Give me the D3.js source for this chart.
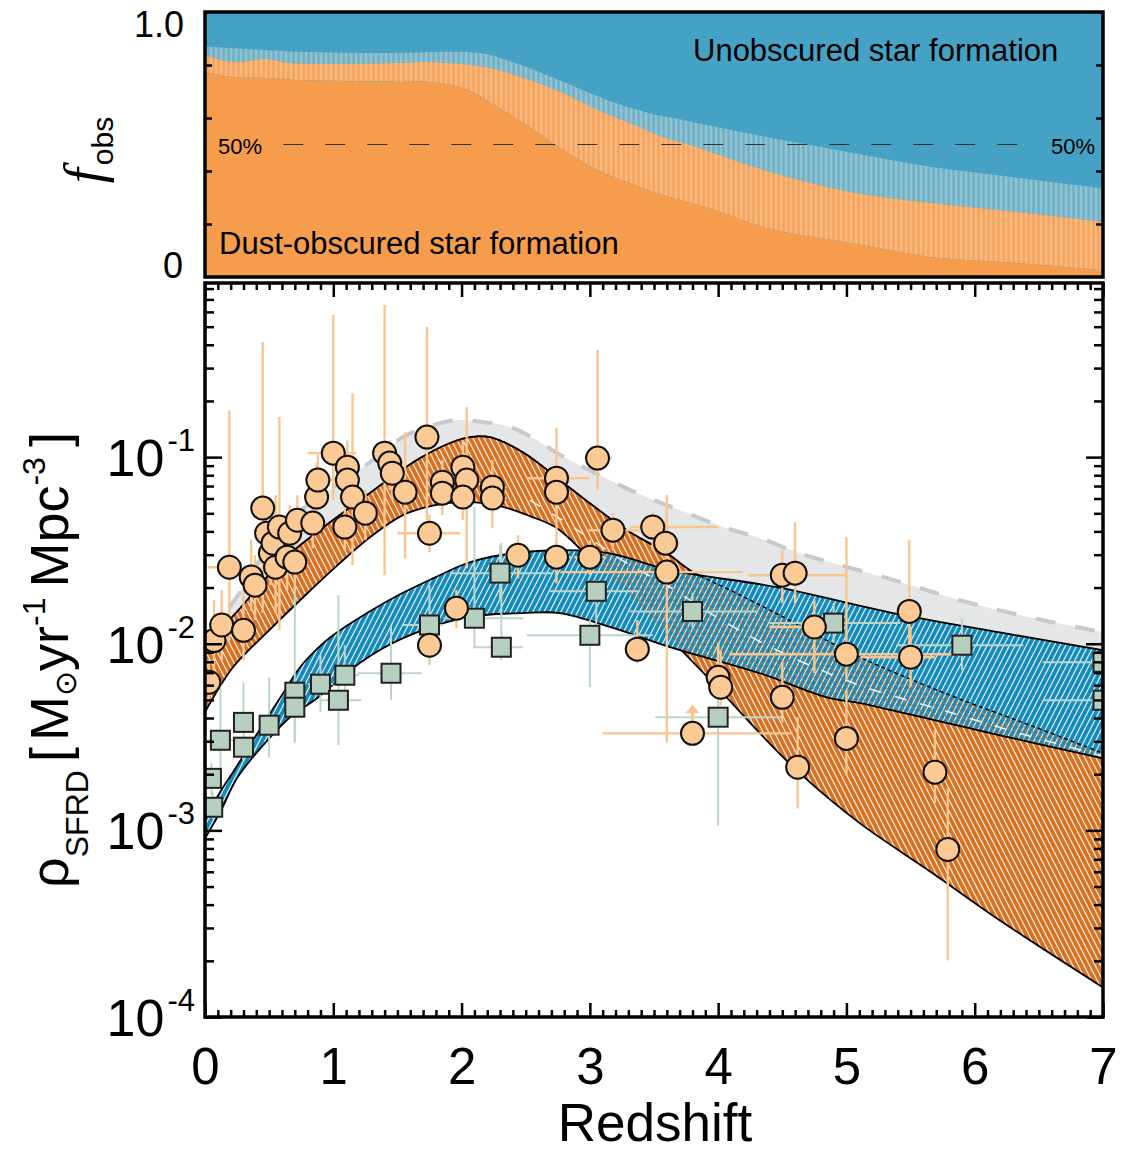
<!DOCTYPE html>
<html>
<head>
<meta charset="utf-8">
<script src="https://cdn.jsdelivr.net/npm/d3@7"></script>
<style>
  html, body { margin: 0; padding: 0; background: #fff; }
  svg { display: block; font-family: "Liberation Sans", Arial, Helvetica, sans-serif; }
</style>
</head>
<body>
<svg id="chart" width="1122" height="1151"></svg>
<script>
'use strict';

// ---- top panel: obscured fraction (upper / best / lower) ----
var fracUpperZ = [0, 0.74, 1.36, 2.14, 2.4, 2.67, 2.92, 3.18, 3.45, 3.7, 4.0, 4.38, 5.03, 5.67, 6.33, 7];
var fracUpper  = [0.87, 0.85, 0.845, 0.845, 0.81, 0.76, 0.71, 0.66, 0.62, 0.595, 0.565, 0.528, 0.47, 0.415, 0.375, 0.335];
var fracMidZ = [0, 0.22, 0.48, 0.66, 1.52, 1.75, 2.22, 2.53, 2.79, 3.06, 3.31, 3.57, 3.83, 4.01, 4.38, 5.03, 5.67, 6.33, 7];
var fracMid  = [0.838, 0.811, 0.823, 0.808, 0.808, 0.811, 0.789, 0.743, 0.694, 0.63, 0.581, 0.528, 0.491, 0.46, 0.40, 0.321, 0.279, 0.245, 0.208];
var fracLowerZ = [0, 0.22, 0.48, 0.74, 1.52, 1.75, 2.01, 2.28, 2.53, 2.79, 3.06, 3.31, 3.57, 3.96, 4.38, 5.03, 5.67, 6.33, 7];
var fracLower  = [0.774, 0.755, 0.751, 0.743, 0.736, 0.736, 0.713, 0.642, 0.566, 0.479, 0.404, 0.355, 0.309, 0.255, 0.185, 0.128, 0.075, 0.053, 0.026];

// ---- main panel: SFRD bands ----
var totalUpperZ = [0, 0.117, 0.273, 0.507, 0.779, 1.052, 1.341, 1.543, 1.754, 1.964, 2.167, 2.377, 2.588, 2.744, 3.0, 3.367, 3.702, 4.038, 4.326, 4.638, 4.95, 5.285, 5.573, 5.885, 6.197, 6.532, 6.844, 7];
var totalUpper  = [0.01045, 0.01337, 0.0189, 0.0337, 0.054, 0.0726, 0.1, 0.128, 0.1466, 0.158, 0.154, 0.145, 0.1233, 0.105, 0.0851, 0.0641, 0.052, 0.0422, 0.0368, 0.0305, 0.0264, 0.0228, 0.0199, 0.0171, 0.0151, 0.01337, 0.0121, 0.0115];
var totalLowerZ = [0, 0.5, 1, 1.5, 2, 2.5, 3, 3.5, 4, 5, 6, 7];
var totalLower  = [0.006, 0.016, 0.033, 0.06, 0.08, 0.07, 0.043, 0.025, 0.015, 0.01, 0.008, 0.006];

var obscUpperZ = [0, 0.117, 0.273, 0.429, 0.585, 0.741, 0.974, 1.208, 1.442, 1.676, 1.91, 2.066, 2.222, 2.479, 2.767, 3.0, 3.289, 3.601, 3.804, 4.092, 4.482, 5.106, 5.807, 6.431, 7];
var obscUpper  = [0.00946, 0.0118, 0.0155, 0.0206, 0.0274, 0.0337, 0.0448, 0.0587, 0.0771, 0.0988, 0.119, 0.128, 0.128, 0.106, 0.0753, 0.0566, 0.0406, 0.0305, 0.0242, 0.0194, 0.0142, 0.00847, 0.0053, 0.00366, 0.00259];
var obscLowerZ = [0, 0.218, 0.483, 0.741, 0.974, 1.286, 1.543, 1.793, 2.042, 2.3, 2.533, 2.744, 3.0, 3.235, 3.43, 3.625, 4.014, 4.326, 4.638, 5.106, 5.675, 6.197, 7];
var obscLower  = [0.0043, 0.00748, 0.0115, 0.0171, 0.0242, 0.0372, 0.0489, 0.0553, 0.0574, 0.0546, 0.0483, 0.0416, 0.0287, 0.0206, 0.0151, 0.0107, 0.00564, 0.00331, 0.00202, 0.00109, 0.000588, 0.000329, 0.000144];
var obscMidZ = [2.533, 2.845, 3.289, 3.625, 3.936, 4.459, 5.106, 5.753, 6.353, 7];
var obscMid  = [0.0587, 0.0432, 0.027, 0.0201, 0.0146, 0.00923, 0.00598, 0.0044, 0.00331, 0.0025];

var unobscUpperZ = [0, 0.117, 0.218, 0.351, 0.483, 0.624, 0.741, 0.896, 0.998, 1.263, 1.52, 1.777, 2.042, 2.3, 2.767, 3.157, 3.625, 4.459, 5.363, 6.197, 7];
var unobscUpper  = [0.00116, 0.0016, 0.00205, 0.00286, 0.00399, 0.00564, 0.00748, 0.0097, 0.0111, 0.0146, 0.0184, 0.0224, 0.027, 0.0298, 0.0317, 0.0305, 0.0248, 0.0201, 0.0146, 0.0115, 0.00923];
var unobscLowerZ = [0, 0.117, 0.249, 0.405, 0.663, 0.873, 1.13, 1.387, 1.653, 2.042, 2.479, 2.767, 3.157, 3.625, 4.326, 4.848, 5.106, 5.417, 6.197, 7];
var unobscLower  = [0.000906, 0.00125, 0.0019, 0.00262, 0.00404, 0.0051, 0.00721, 0.00946, 0.0115, 0.0139, 0.0146, 0.0146, 0.0123, 0.00958, 0.00695, 0.00516, 0.0048, 0.0043, 0.00323, 0.00243];

// ---- measurements: dust-obscured (circles) ----
var circZ = [0.03, 0.07, 0.13, 0.19, 0.30, 0.36, 0.39, 0.45, 0.48, 0.51, 0.53, 0.55, 0.58, 0.64, 0.66, 0.70, 0.72, 0.84, 0.87, 0.88,
             1.00, 1.09, 1.11, 1.11, 1.15, 1.25, 1.40, 1.44, 1.46, 1.56, 1.73, 1.75, 1.75, 1.85, 1.85, 1.96, 2.01, 2.04, 2.01, 2.24,
             2.24, 2.44, 2.74, 2.74, 2.74, 3.00, 3.06, 3.18, 3.37, 3.49, 3.59, 3.60, 3.80, 4.00, 4.02, 4.50, 4.60, 4.50, 4.62, 4.75,
             5.00, 5.00, 5.49, 5.50, 5.69, 5.79];
var circV = [0.00622, 0.0104, 0.0126, 0.0257, 0.0118, 0.0228, 0.0206, 0.0533, 0.0391, 0.0305, 0.0346, 0.0257, 0.0422, 0.0291, 0.0391, 0.0274, 0.0459, 0.0443, 0.0611, 0.0753,
             0.105, 0.0422, 0.0883, 0.0753, 0.0611, 0.0501, 0.105, 0.0929, 0.082, 0.0649, 0.128, 0.0391, 0.00982, 0.0734, 0.0641, 0.0155, 0.0883, 0.0753, 0.0611, 0.069,
             0.0603, 0.0298, 0.0771, 0.0649, 0.0291, 0.0291, 0.0988, 0.0406, 0.00935, 0.0422, 0.0346, 0.0242, 0.00331, 0.00661, 0.00585, 0.0233, 0.0239, 0.00516, 0.00218, 0.0123,
             0.00879, 0.00311, 0.0149, 0.00847, 0.00205, 0.00079];
var circLo = [0.00498, 0.00564, 0.00816, 0.0104, 0.00816, 0.0151, 0.0134, 0.0146, 0.0281, 0.0206, 0.0233, 0.0146, 0.0118, 0.0194, 0.0281, 0.0194, 0.0337, 0.0325, 0.0501, 0.0553,
              0.0588, 0.0317, 0.0649, 0.0553, 0.0264, 0.0359, 0.0233, 0.0665, 0.0588, 0.0287, 0.0459, 0.031, 0.00796, 0.0553, 0.0489, 0.0121, 0.0625, 0.0254, 0.0459, 0.0507,
              0.0416, 0.0224, 0.0211, 0.0489, 0.0233, 0.0233, 0.0665, 0.0317, 0.00785, 0.0317, 0.0264, 0.00296, 0.00331, 0.00498, 0.00468, 0.0165, 0.0165, 0.00379, 0.00131, 0.00695,
              0.00637, 0.00197, 0.00847, 0.00585, 0.0014, 0.000201];
var circHi = [0.00816, 0.0171, 0.0194, 0.179, 0.0194, 0.0359, 0.0298, 0.414, 0.0553, 0.0432, 0.0489, 0.0625, 0.164, 0.0406, 0.0553, 0.0382, 0.0625, 0.0588, 0.0929, 0.103,
              0.577, 0.0553, 0.123, 0.103, 0.22, 0.0665, 0.653, 0.123, 0.109, 0.136, 0.498, 0.0489, 0.0118, 0.0964, 0.0851, 0.0194, 0.123, 0.185, 0.08, 0.0964,
              0.08, 0.0382, 0.143, 0.0851, 0.0359, 0.0359, 0.375, 0.0501, 0.0134, 0.0507, 0.0459, 0.0625, 0.00331, 0.0101, 0.00923, 0.0317, 0.0448, 0.00796, 0.00404, 0.0171,
              0.0372, 0.00564, 0.0359, 0.0123, 0.00344, 0.00168];
var circZLo = [0, 0, 0.04, 0.02, 0.21, 0.27, 0.31, 0.37, 0.40, 0.41, 0.44, 0.44, 0.49, 0.55, 0.57, 0.61, 0.62, 0.74, 0.78, 0.78,
               0.80, 1.0, 1.01, 1.01, 1.05, 1.15, 1.30, 1.35, 1.36, 1.46, 1.64, 1.50, 1.66, 1.75, 1.75, 1.87, 1.91, 1.95, 1.91, 2.15,
               2.15, 2.34, 2.51, 2.65, 2.65, 2.88, 2.96, 2.99, 3.27, 3.31, 3.51, 2.77, 3.10, 3.90, 3.92, 4.23, 4.50, 4.40, 4.52, 4.40,
               4.09, 4.90, 5.39, 5.11, 5.59, 5.69];
var circZHi = [0.08, 0.16, 0.23, 0.27, 0.39, 0.45, 0.47, 0.55, 0.57, 0.60, 0.62, 0.65, 0.68, 0.74, 0.76, 0.80, 0.82, 0.94, 0.97, 0.99,
               1.18, 1.18, 1.21, 1.21, 1.25, 1.35, 1.50, 1.54, 1.56, 1.66, 1.83, 1.99, 1.85, 1.94, 1.94, 2.07, 2.11, 2.14, 2.11, 2.35,
               2.35, 2.53, 3.0, 2.85, 2.85, 3.12, 3.17, 3.39, 3.47, 4.0, 3.70, 4.19, 4.58, 4.09, 4.12, 5.0, 4.70, 4.60, 4.72, 4.87,
               5.88, 5.10, 5.59, 5.69, 5.79, 5.89];
var circLowerLimits = [52];

// ---- measurements: unobscured (squares) ----
var sqZ   = [0.05, 0.06, 0.12, 0.30, 0.30, 0.50, 0.70, 0.70, 0.90, 1.09, 1.04, 1.45, 1.75, 2.10, 2.30, 2.31, 3.05, 3.00, 3.80, 4.90, 5.90, 4.00, 7.0, 7.0];
var sqV   = [0.0019, 0.00133, 0.00304, 0.00379, 0.00279, 0.00366, 0.0055, 0.00457, 0.00607, 0.00678, 0.00498, 0.00695, 0.0126, 0.0137, 0.0239, 0.00958, 0.0191, 0.0111, 0.0149, 0.0129, 0.00982, 0.00404, 0.00796, 0.00498];
var sqLo  = [0.00155, 0.00115, 0.00202, 0.00237, 0.00237, 0.00246, 0.00296, 0.00296, 0.0043, 0.0055, 0.00286, 0.00498, 0.00767, 0.00958, 0.0171, 0.00816, 0.0126, 0.00585, 0.0123, 0.0101, 0.00721, 0.00106, 0.0070, 0.0044];
var sqHi  = [0.0023, 0.0016, 0.00614, 0.00622, 0.00323, 0.00661, 0.0201, 0.00637, 0.00867, 0.00982, 0.0182, 0.0126, 0.0206, 0.054, 0.0337, 0.0346, 0.0219, 0.0134, 0.0187, 0.0165, 0.0137, 0.0101, 0.009, 0.0056];
var sqZLo = [0, 0, 0, 0.22, 0.22, 0.42, 0.62, 0.62, 0.80, 1.0, 0.90, 1.19, 1.54, 1.86, 1.91, 2.09, 2.69, 2.51, 3.31, 4.40, 5.39, 3.51, 6.53, 6.53];
var sqZHi = [0.12, 0.12, 0.22, 0.38, 0.38, 0.58, 0.78, 0.78, 1.0, 1.2, 1.22, 1.69, 1.85, 2.48, 2.71, 2.48, 3.39, 3.49, 4.30, 5.42, 6.38, 4.50, 7.0, 7.0];

// ---- ticks ----
var zMajor = [0, 1, 2, 3, 4, 5, 6, 7];
var rhoMajor = [1e-4, 1e-3, 1e-2, 1e-1];
var rhoExp = ['-4', '-3', '-2', '-1'];
var fracTicks = [0.2, 0.4, 0.6, 0.8];

var svg = d3.select('#chart');
var defs = svg.append('defs');

var x = d3.scaleLinear().domain([0, 7]).range([205, 1103]);
var yFrac = d3.scaleLinear().domain([0, 1]).range([277, 12]);
var yRho = d3.scaleLog().domain([1e-4, 0.857]).range([1017, 283]);

function pairs(zs, vs) {
    return zs.map(function(z, i) { return [z, vs[i]]; });
}

function lineGen(y) {
    return d3.line()
        .x(function(d) { return x(d[0]); })
        .y(function(d) { return y(d[1]); })
        .curve(d3.curveCatmullRom.alpha(0.5));
}

function bandPath(y, zU, vU, zL, vL) {
    var line = lineGen(y);
    var lower = line(pairs(zL, vL).reverse());
    return line(pairs(zU, vU)) + 'L' + lower.slice(1) + 'Z';
}

function stripes(id, base, light) {
    var p = defs.append('pattern').attr('id', id)
        .attr('patternUnits', 'userSpaceOnUse').attr('width', 5).attr('height', 10);
    p.append('rect').attr('width', 5).attr('height', 10).attr('fill', base);
    p.append('rect').attr('x', 0).attr('width', 2.2).attr('height', 10).attr('fill', light);
}

function hatch(id, base, color, width, angle, dash) {
    var p = defs.append('pattern').attr('id', id)
        .attr('patternUnits', 'userSpaceOnUse').attr('width', 5).attr('height', 10)
        .attr('patternTransform', 'rotate(' + angle + ')');
    if (base) p.append('rect').attr('width', 5).attr('height', 10).attr('fill', base);
    p.append('line').attr('x1', 2.5).attr('x2', 2.5).attr('y1', 0).attr('y2', 10)
        .attr('stroke', color).attr('stroke-width', width)
        .attr('stroke-dasharray', dash || null);
}

stripes('stripeBlue', '#72b2c8', '#92c3d0');
stripes('stripeOrange', '#f5a660', '#f8b87f');
hatch('hatchOrange', '#d8701f', '#ffffff', 1.1, -27);
hatch('hatchBlue', '#128abb', '#ffffff', 1.1, 27);
hatch('hatchOrangeOver', null, '#d8701f', 1.6, -27, '3,2');

defs.append('clipPath').attr('id', 'clipTop')
    .append('rect').attr('x', 205).attr('y', 12).attr('width', 898).attr('height', 265);
defs.append('clipPath').attr('id', 'clipMain')
    .append('rect').attr('x', 205).attr('y', 283).attr('width', 898).attr('height', 734);
defs.append('clipPath').attr('id', 'clipBlue')
    .append('path').attr('d', bandPath(yRho, unobscUpperZ, unobscUpper, unobscLowerZ, unobscLower));

// ================= top panel =================
var topPanel = svg.append('g').attr('clip-path', 'url(#clipTop)');
topPanel.append('rect').attr('x', 205).attr('y', 12).attr('width', 898).attr('height', 265).attr('fill', '#46a2c5');
topPanel.append('path').attr('d', bandPath(yFrac, fracUpperZ, fracUpper, fracMidZ, fracMid)).attr('fill', 'url(#stripeBlue)');
topPanel.append('path').attr('d', bandPath(yFrac, fracMidZ, fracMid, fracLowerZ, fracLower)).attr('fill', 'url(#stripeOrange)');
topPanel.append('path').attr('d', bandPath(yFrac, fracLowerZ, fracLower, [0, 7], [0, 0])).attr('fill', '#f59d4d');

topPanel.append('line')
    .attr('x1', x(0.61)).attr('x2', x(6.4))
    .attr('y1', yFrac(0.5)).attr('y2', yFrac(0.5))
    .attr('stroke', '#333').attr('stroke-width', 1.2).attr('stroke-dasharray', '20,22');

svg.append('text').attr('x', 218).attr('y', 154).attr('font-size', 22).text('50%');
svg.append('text').attr('x', 1095).attr('y', 154).attr('font-size', 22).attr('text-anchor', 'end').text('50%');
svg.append('text').attr('x', 693).attr('y', 61).attr('font-size', 31).text('Unobscured star formation');
svg.append('text').attr('x', 219).attr('y', 254).attr('font-size', 31).text('Dust-obscured star formation');

function styleAxis(g) {
    g.select('.domain').remove();
    g.selectAll('.tick line').attr('stroke', '#000').attr('stroke-width', 2.5);
}

svg.append('g').attr('transform', 'translate(205,0)')
    .call(d3.axisLeft(yFrac).tickValues(fracTicks).tickSize(-7).tickFormat(''))
    .call(styleAxis);
svg.append('g').attr('transform', 'translate(1103,0)')
    .call(d3.axisRight(yFrac).tickValues(fracTicks).tickSize(-7).tickFormat(''))
    .call(styleAxis);

svg.append('text').attr('x', 184).attr('y', yFrac(1) + 25).attr('font-size', 36).attr('text-anchor', 'end').text('1.0');
svg.append('text').attr('x', 183).attr('y', yFrac(0) + 1).attr('font-size', 36).attr('text-anchor', 'end').text('0');

var fl = svg.append('text').attr('transform', 'translate(102,150) rotate(-90)').attr('text-anchor', 'middle');
fl.append('tspan').attr('font-family', '"Liberation Serif", "Times New Roman", serif')
    .attr('font-style', 'italic').attr('font-size', 54).text('f');
fl.append('tspan').attr('font-size', 30).attr('dy', 11).attr('dx', 3).text('obs');

svg.append('rect').attr('x', 205).attr('y', 12).attr('width', 898).attr('height', 265)
    .attr('fill', 'none').attr('stroke', '#000').attr('stroke-width', 3.5);

// ================= main panel =================
var mainPanel = svg.append('g').attr('clip-path', 'url(#clipMain)');

mainPanel.append('path').attr('d', bandPath(yRho, totalUpperZ, totalUpper, totalLowerZ, totalLower)).attr('fill', '#e5e6e8');

mainPanel.append('path').attr('d', bandPath(yRho, obscUpperZ, obscUpper, obscLowerZ, obscLower)).attr('fill', 'url(#hatchOrange)');
[[obscUpperZ, obscUpper], [obscLowerZ, obscLower]].forEach(function(e) {
    mainPanel.append('path').attr('d', lineGen(yRho)(pairs(e[0], e[1])))
        .attr('fill', 'none').attr('stroke', '#000').attr('stroke-width', 1.8);
});

mainPanel.append('path').attr('d', bandPath(yRho, unobscUpperZ, unobscUpper, unobscLowerZ, unobscLower)).attr('fill', 'url(#hatchBlue)');
mainPanel.append('g').attr('clip-path', 'url(#clipBlue)')
    .append('path').attr('d', bandPath(yRho, obscUpperZ, obscUpper, obscLowerZ, obscLower))
    .attr('fill', 'url(#hatchOrangeOver)');
[[unobscUpperZ, unobscUpper], [unobscLowerZ, unobscLower]].forEach(function(e) {
    mainPanel.append('path').attr('d', lineGen(yRho)(pairs(e[0], e[1])))
        .attr('fill', 'none').attr('stroke', '#000').attr('stroke-width', 1.8);
});
mainPanel.append('path').attr('d', lineGen(yRho)(pairs(obscUpperZ, obscUpper)))
    .attr('fill', 'none').attr('stroke', '#000').attr('stroke-width', 1.4).attr('stroke-dasharray', '4,3');
mainPanel.append('path').attr('d', lineGen(yRho)(pairs(obscMidZ, obscMid)))
    .attr('fill', 'none').attr('stroke', '#fff').attr('stroke-width', 1.6).attr('stroke-dasharray', '12,14').attr('opacity', 0.85);

mainPanel.append('path').attr('d', lineGen(yRho)(pairs(totalUpperZ, totalUpper)))
    .attr('fill', 'none').attr('stroke', '#c8c9cb').attr('stroke-width', 4).attr('stroke-dasharray', '20,20');

// error bars
var sqIdx = d3.range(sqZ.length);
var circIdx = d3.range(circZ.length);

var eb = mainPanel.append('g');
sqIdx.forEach(function(i) {
    eb.append('line').attr('x1', x(sqZ[i])).attr('x2', x(sqZ[i])).attr('y1', yRho(sqLo[i])).attr('y2', yRho(sqHi[i]))
        .attr('stroke', '#bdd5c6').attr('stroke-width', 2);
    eb.append('line').attr('x1', x(sqZLo[i])).attr('x2', x(sqZHi[i])).attr('y1', yRho(sqV[i])).attr('y2', yRho(sqV[i]))
        .attr('stroke', '#bdd5c6').attr('stroke-width', 2);
});
circIdx.forEach(function(i) {
    eb.append('line').attr('x1', x(circZ[i])).attr('x2', x(circZ[i])).attr('y1', yRho(circLo[i])).attr('y2', yRho(circHi[i]))
        .attr('stroke', '#f8c690').attr('stroke-width', 2.4);
    eb.append('line').attr('x1', x(circZLo[i])).attr('x2', x(circZHi[i])).attr('y1', yRho(circV[i])).attr('y2', yRho(circV[i]))
        .attr('stroke', '#f8c690').attr('stroke-width', 2.4);
});
circLowerLimits.forEach(function(i) {
    var cx = x(circZ[i]), cy = yRho(circV[i]);
    eb.append('line').attr('x1', cx).attr('x2', cx).attr('y1', cy - 11).attr('y2', cy - 24)
        .attr('stroke', '#f8c690').attr('stroke-width', 3);
    eb.append('path').attr('d', 'M' + (cx - 7) + ',' + (cy - 20) + 'L' + cx + ',' + (cy - 29) + 'L' + (cx + 7) + ',' + (cy - 20) + 'Z')
        .attr('fill', '#f8c690');
});

mainPanel.append('g').selectAll('rect')
    .data(sqIdx)
    .enter()
    .append('rect')
    .attr('x', function(i) { return x(sqZ[i]) - 9.5; })
    .attr('y', function(i) { return yRho(sqV[i]) - 9.5; })
    .attr('width', 19).attr('height', 19)
    .attr('fill', '#b7cfbf').attr('stroke', '#222').attr('stroke-width', 2);

mainPanel.append('g').selectAll('circle')
    .data(circIdx)
    .enter()
    .append('circle')
    .attr('cx', function(i) { return x(circZ[i]); })
    .attr('cy', function(i) { return yRho(circV[i]); })
    .attr('r', 11.5)
    .attr('fill', '#fac994').attr('stroke', '#111').attr('stroke-width', 2);

// axes
var zMinor = d3.range(1, 70).filter(function(k) { return k % 10 !== 0; }).map(function(k) { return k / 10; });
var rhoMinor = [];
[-4, -3, -2, -1].forEach(function(e) {
    d3.range(2, 10).forEach(function(k) {
        var v = k * Math.pow(10, e);
        if (v < 0.857) rhoMinor.push(v);
    });
});

svg.append('g').attr('transform', 'translate(0,1017)')
    .call(d3.axisBottom(x).tickValues(zMajor).tickSize(-14).tickPadding(31).tickFormat(d3.format('d')))
    .call(styleAxis)
    .call(function(g) { g.selectAll('text').attr('font-size', 51).attr('fill', '#000').attr('font-family', '"Liberation Sans", Arial, sans-serif'); });
svg.append('g').attr('transform', 'translate(0,1017)')
    .call(d3.axisBottom(x).tickValues(zMinor).tickSize(-7).tickFormat(''))
    .call(styleAxis);
svg.append('g').attr('transform', 'translate(0,283)')
    .call(d3.axisTop(x).tickValues(zMajor).tickSize(-14).tickFormat(''))
    .call(styleAxis);
svg.append('g').attr('transform', 'translate(0,283)')
    .call(d3.axisTop(x).tickValues(zMinor).tickSize(-7).tickFormat(''))
    .call(styleAxis);

svg.append('g').attr('transform', 'translate(205,0)')
    .call(d3.axisLeft(yRho).tickValues(rhoMajor).tickSize(-17).tickFormat(''))
    .call(styleAxis);
svg.append('g').attr('transform', 'translate(205,0)')
    .call(d3.axisLeft(yRho).tickValues(rhoMinor).tickSize(-9).tickFormat(''))
    .call(styleAxis);
svg.append('g').attr('transform', 'translate(1103,0)')
    .call(d3.axisRight(yRho).tickValues(rhoMajor).tickSize(-17).tickFormat(''))
    .call(styleAxis);
svg.append('g').attr('transform', 'translate(1103,0)')
    .call(d3.axisRight(yRho).tickValues(rhoMinor).tickSize(-9).tickFormat(''))
    .call(styleAxis);

rhoMajor.forEach(function(v, i) {
    var t = svg.append('text').attr('x', 195).attr('y', yRho(v) + 19)
        .attr('text-anchor', 'end').attr('font-size', 52);
    t.append('tspan').text('10');
    t.append('tspan').attr('font-size', 31).attr('dy', -25).attr('dx', 3).text(rhoExp[i]);
});

svg.append('text').attr('x', 655).attr('y', 1141).attr('font-size', 53)
    .attr('text-anchor', 'middle').text('Redshift');

var yt = svg.append('text').attr('transform', 'translate(68,660) rotate(-90)')
    .attr('text-anchor', 'middle').attr('font-size', 54);
yt.append('tspan').text('\u03C1');
yt.append('tspan').attr('font-size', 32).attr('dy', 20).text('SFRD');
yt.append('tspan').attr('dy', -20).attr('dx', 8).text('[');
yt.append('tspan').attr('dx', 6).text('M');
yt.append('tspan').attr('font-family', '"DejaVu Sans", sans-serif').attr('font-size', 30).attr('dy', 8).text('\u2299');
yt.append('tspan').attr('dy', -8).text('yr');
yt.append('tspan').attr('font-size', 32).attr('dy', -23).text('-1');
yt.append('tspan').attr('dy', 23).attr('dx', 10).text('Mpc');
yt.append('tspan').attr('font-size', 32).attr('dy', -23).text('-3');
yt.append('tspan').attr('dy', 23).attr('dx', 10).text(']');

svg.append('rect').attr('x', 205).attr('y', 283).attr('width', 898).attr('height', 734)
    .attr('fill', 'none').attr('stroke', '#000').attr('stroke-width', 3.5);

</script>
</body>
</html>
